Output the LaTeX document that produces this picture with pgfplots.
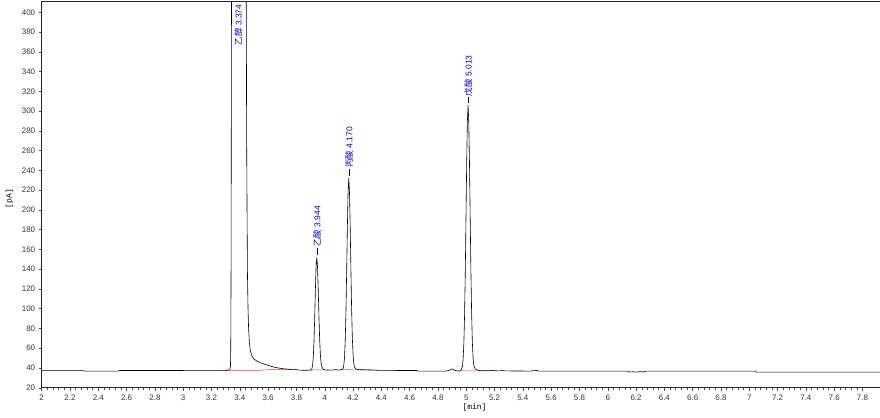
\documentclass[border=0pt]{standalone}
\usepackage{pgfplots}
\pgfplotsset{compat=1.18}
\usepackage{fontspec}
\setmainfont{Liberation Sans}
\setmonofont{Liberation Mono}
\newfontfamily\cjk{Noto Sans CJK SC}

\begin{document}
\begin{tikzpicture}
  % fixed page: axis box starts at (0,0)
  \useasboundingbox (-41.7bp,-30.3bp) rectangle (838.3bp,387.7bp);
  \begin{axis}[
      scale only axis,
      width=842bp, height=386bp,
      xmin=2, xmax=7.95,
      ymin=20, ymax=410.7,
      axis line style={line width=1.2pt, black!85},
      xtick={2,2.2,...,7.81},
      xticklabels={2,2.2,2.4,2.6,2.8,3,3.2,3.4,3.6,3.8,4,4.2,4.4,4.6,4.8,5,5.2,5.4,5.6,5.8,6,6.2,6.4,6.6,6.8,7,7.2,7.4,7.6,7.8},
      minor x tick num=4,
      ytick={20,40,...,400},
      tick align=outside,
      major tick length=3bp, minor tick length=2bp,
      tick style={black!70, line width=0.4pt},
      xtick pos=bottom, ytick pos=left,
      /pgf/number format/assume math mode=true,
      ticklabel style={font=\fontsize{8}{9}\selectfont, text=black!80},
      xticklabel style={yshift=-1bp},
      xlabel={[min]},
      xlabel style={font=\ttfamily\fontsize{8}{9}\selectfont, at={(rel axis cs:0.514,0)}, anchor=north, yshift=-13bp},
      ylabel={[pA]},
      ylabel style={font=\ttfamily\fontsize{8}{9}\selectfont, at={(rel axis cs:0,0.49)}, anchor=south, yshift=25bp},
      clip=true,
    ]
    % integration baselines
    \addplot[red!80, line width=0.5pt] coordinates {(3.30,37.5) (3.56,37.6)};
    \addplot[red!80, line width=0.5pt] coordinates {(3.56,38.1) (3.76,38.5)};
    \addplot[red!80, line width=0.5pt] coordinates {(3.89,37.9) (4.00,38.0)};
    \addplot[red!80, line width=0.5pt] coordinates {(4.11,38.2) (4.35,38.1)};
    \addplot[red!80, line width=0.5pt] coordinates {(4.95,36.9) (5.20,37.2)};

    % chromatogram
    \addplot[black, line width=0.6pt] coordinates {
      (2.00,37.5) (2.29,37.5) (2.30,36.8) (2.54,36.8) (2.55,37.4) (3.30,37.5)
      (3.32,37.8) (3.33,38.5) (3.334,42) (3.336,60) (3.338,135) (3.340,300)
      (3.342,500) (3.36,900) (3.374,1000) (3.40,900) (3.44,500) (3.446,400)
      (3.448,280) (3.451,200) (3.454,135) (3.458,100) (3.462,80) (3.468,65)
      (3.475,57) (3.485,52) (3.50,49) (3.52,47) (3.55,45) (3.60,42.5)
      (3.65,40.5) (3.70,39.3) (3.75,38.6) (3.78,38.2) (3.79,38.9) (3.80,38.3)
      (3.82,37.8) (3.86,37.6) (3.899,37.8)
      (3.909,39) (3.914,42.5) (3.919,50.5) (3.924,66) (3.929,90) (3.934,118.5)
      (3.939,142.5) (3.944,152) (3.949,142.5) (3.954,120) (3.959,93) (3.964,70)
      (3.969,54) (3.974,45.5) (3.980,41) (3.990,38.5) (4.00,38) (4.05,37.8)
      (4.08,38.4) (4.09,37.8) (4.120,38.3)
      (4.130,39.5) (4.135,42.9) (4.140,51) (4.145,68) (4.150,97) (4.155,137.5)
      (4.160,182) (4.165,218) (4.170,232) (4.175,218) (4.180,183) (4.185,140)
      (4.190,100) (4.195,71) (4.200,54) (4.205,45) (4.210,41) (4.220,39)
      (4.24,38.3) (4.30,38) (4.40,37.5) (4.65,37.4) (4.66,36.8) (4.85,36.8)
      (4.88,37.5) (4.90,39) (4.92,37.5) (4.95,36.8)
      (4.963,37.5) (4.973,41.5) (4.978,48.8) (4.983,64) (4.988,91.6) (4.993,134)
      (4.998,188.5) (5.003,245.5) (5.008,289) (5.013,306) (5.018,289) (5.023,247)
      (5.028,192) (5.033,138) (5.038,96) (5.043,67) (5.048,51) (5.053,43)
      (5.063,39) (5.08,37.8) (5.10,37.3) (5.20,37.2) (5.24,37.0) (5.25,37.8)
      (5.27,37.0) (5.46,36.8) (5.47,37.6) (5.50,37.4) (5.51,36.8) (6.14,36.8)
      (6.15,35.8) (6.18,36.2) (6.20,35.7) (6.23,36.3) (6.25,35.9) (6.27,36.8)
      (7.04,36.8) (7.05,35.8) (7.95,35.8)
    };

    % peak labels
    \begin{scope}[blue!85!black]
      \draw (axis cs:3.944,154) -- (axis cs:3.944,161);
      \draw (axis cs:4.170,234) -- (axis cs:4.170,241);
      \draw (axis cs:5.013,308) -- (axis cs:5.013,314);
    \end{scope}
    \tikzset{pk/.style={rotate=90, anchor=west, inner sep=0.5bp, text=blue!85!black, font=\fontsize{8.5}{9}\selectfont}}
    \node[pk] at (axis cs:3.39,366) {{\cjk 乙醇} 3.374};
    \node[pk] at (axis cs:3.946,162) {{\cjk 乙酸} 3.944};
    \node[pk] at (axis cs:4.172,242) {{\cjk 丙酸} 4.170};
    \node[pk] at (axis cs:5.015,314.5) {{\cjk 戊酸} 5.013};
  \end{axis}
\end{tikzpicture}
\end{document}
